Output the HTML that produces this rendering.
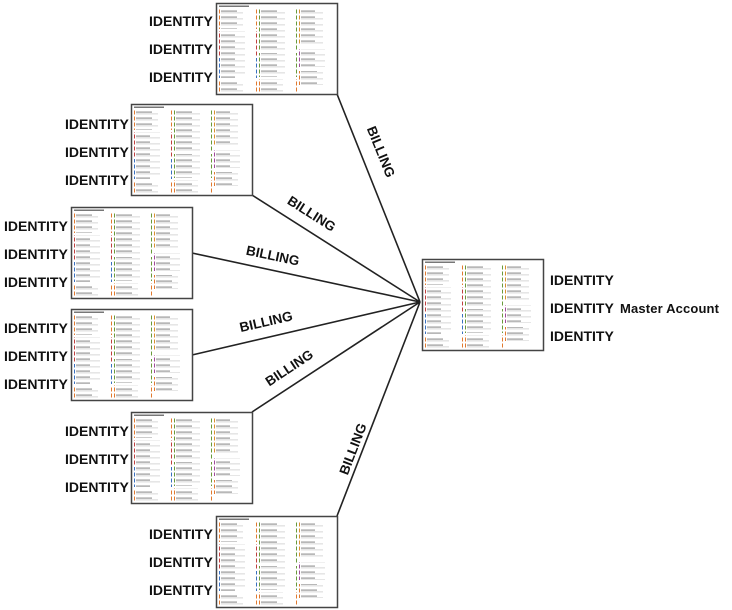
<!DOCTYPE html>
<html><head><meta charset="utf-8"><style>
html,body{margin:0;padding:0;background:#fff;}
svg{display:block}
text{font-family:"Liberation Sans",sans-serif;font-weight:bold;fill:#111;}
</style></head><body>
<svg width="732" height="610" viewBox="0 0 732 610" xmlns="http://www.w3.org/2000/svg">
<defs>
<pattern id="pa" width="40" height="6" patternUnits="userSpaceOnUse">
<rect x="0" y="0.5" width="4" height="4" fill="#e07a30"/><rect x="5" y="1.5" width="16" height="1.2" fill="#999"/><rect x="5" y="3.5" width="22" height="0.8" fill="#ccc"/>
</pattern>
<pattern id="pb" width="40" height="6" patternUnits="userSpaceOnUse">
<rect x="0" y="0.5" width="4" height="4" fill="#6a9a3a"/><rect x="5" y="1.5" width="16" height="1.2" fill="#999"/><rect x="5" y="3.5" width="24" height="0.8" fill="#ccc"/>
</pattern>
<pattern id="pc" width="40" height="6" patternUnits="userSpaceOnUse">
<rect x="0" y="0.5" width="4" height="4" fill="#d89030"/><rect x="5" y="1.5" width="14" height="1.2" fill="#999"/><rect x="5" y="3.5" width="22" height="0.8" fill="#ccc"/>
</pattern>
<pattern id="pd" width="40" height="6" patternUnits="userSpaceOnUse">
<rect x="0" y="0.5" width="4" height="4" fill="#3a70c0"/><rect x="5" y="1.5" width="14" height="1.2" fill="#999"/><rect x="5" y="3.5" width="24" height="0.8" fill="#ccc"/>
</pattern>
<pattern id="pe" width="40" height="6" patternUnits="userSpaceOnUse">
<rect x="0" y="0.5" width="4" height="4" fill="#a04a9a"/><rect x="5" y="1.5" width="14" height="1.2" fill="#999"/><rect x="5" y="3.5" width="24" height="0.8" fill="#ccc"/>
</pattern>
<pattern id="pf" width="40" height="6" patternUnits="userSpaceOnUse">
<rect x="0" y="0.5" width="4" height="4" fill="#c04040"/><rect x="5" y="1.5" width="14" height="1.2" fill="#999"/><rect x="5" y="3.5" width="24" height="0.8" fill="#ccc"/>
</pattern>
<g id="box">
<rect x="0.5" y="0.5" width="121" height="91" fill="#fff" stroke="#444" stroke-width="1.5"/>
<rect x="3" y="2.5" width="30" height="1.5" fill="#777"/>
<rect x="3" y="6" width="38" height="20" fill="url(#pa)"/>
<rect x="3" y="28" width="38" height="25" fill="url(#pf)"/>
<rect x="3" y="55" width="38" height="20" fill="url(#pd)"/>
<rect x="3" y="77" width="38" height="12" fill="url(#pa)"/>
<rect x="43" y="6" width="38" height="42" fill="url(#pb)"/>
<rect x="43" y="50" width="38" height="24" fill="url(#pb)"/>
<rect x="43" y="76" width="38" height="13" fill="url(#pa)"/>
<rect x="83" y="6" width="36" height="36" fill="url(#pc)"/>
<rect x="83" y="46" width="36" height="18" fill="url(#pe)"/>
<rect x="83" y="68" width="36" height="14" fill="url(#pa)"/>
</g>
</defs>
<g stroke="#222" stroke-width="1.6">
<line x1="337" y1="94" x2="420" y2="302"/>
<line x1="252" y1="195" x2="420" y2="302"/>
<line x1="192" y1="253" x2="420" y2="302"/>
<line x1="192" y1="355" x2="420" y2="302"/>
<line x1="252" y1="412" x2="420" y2="302"/>
<line x1="337" y1="516" x2="420" y2="302"/>
</g>
<use href="#box" x="216" y="3"/>
<use href="#box" x="131" y="104"/>
<use href="#box" x="71" y="207"/>
<use href="#box" x="71" y="309"/>
<use href="#box" x="131" y="412"/>
<use href="#box" x="216" y="516"/>
<use href="#box" x="422" y="259"/>
<g font-size="13.5" text-anchor="middle">
<text transform="translate(373,155) rotate(68)" y="-4">BILLING</text>
<text transform="translate(307,221) rotate(32.5)" y="-4">BILLING</text>
<text transform="translate(271,264) rotate(12)" y="-4">BILLING</text>
<text transform="translate(268,330) rotate(-13)" y="-4">BILLING</text>
<text transform="translate(294,375) rotate(-33.5)" y="-4">BILLING</text>
<text transform="translate(361,452) rotate(-69)" y="-4">BILLING</text>
</g>
<g font-size="14">
<text x="149" y="26">IDENTITY</text><text x="149" y="54">IDENTITY</text><text x="149" y="82">IDENTITY</text>
<text x="65" y="129">IDENTITY</text><text x="65" y="157">IDENTITY</text><text x="65" y="185">IDENTITY</text>
<text x="4" y="231">IDENTITY</text><text x="4" y="259">IDENTITY</text><text x="4" y="287">IDENTITY</text>
<text x="4" y="333">IDENTITY</text><text x="4" y="361">IDENTITY</text><text x="4" y="389">IDENTITY</text>
<text x="65" y="436">IDENTITY</text><text x="65" y="464">IDENTITY</text><text x="65" y="492">IDENTITY</text>
<text x="149" y="539">IDENTITY</text><text x="149" y="567">IDENTITY</text><text x="149" y="595">IDENTITY</text>
<text x="550" y="285">IDENTITY</text><text x="550" y="313">IDENTITY</text><text x="550" y="341">IDENTITY</text>
<text x="620" y="313" font-size="13" textLength="99">Master Account</text>
</g>
</svg>
</body></html>
